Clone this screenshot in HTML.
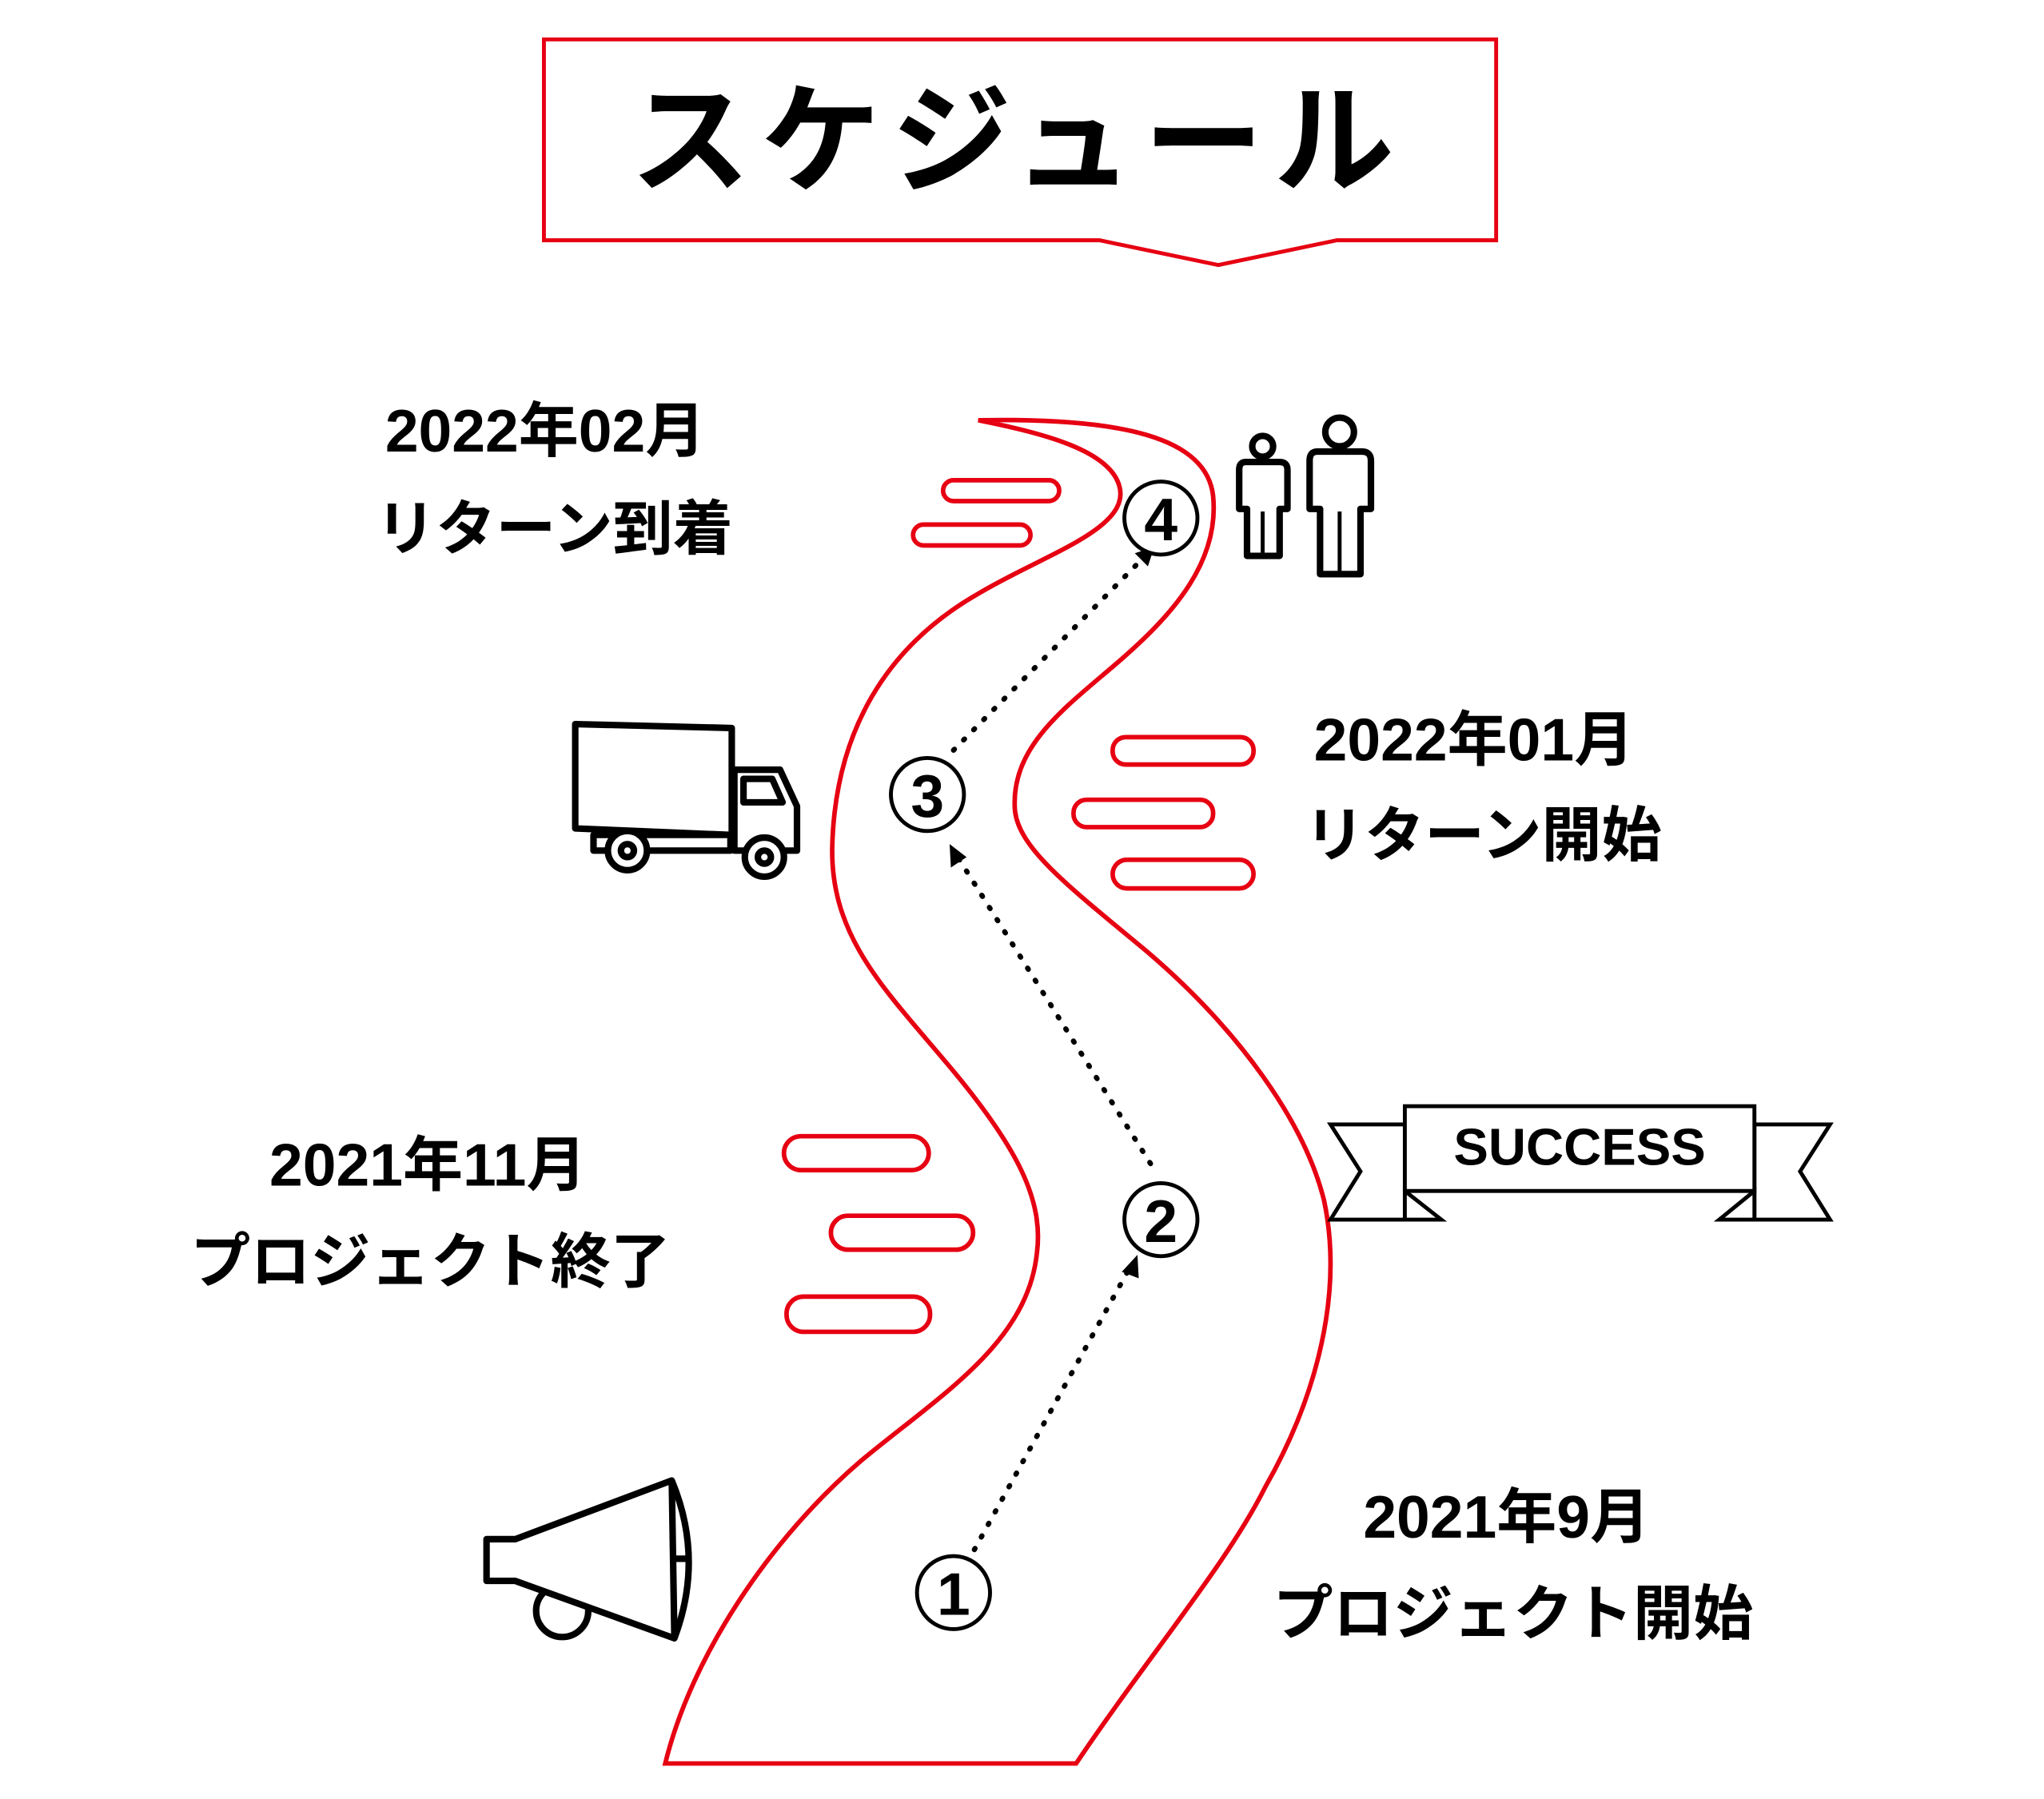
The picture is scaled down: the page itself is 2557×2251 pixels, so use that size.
<!DOCTYPE html>
<html><head><meta charset="utf-8"><style>
html,body{margin:0;padding:0;background:#fff;}
svg{display:block;}
text{font-family:"Liberation Sans","Noto Sans CJK JP",sans-serif;font-weight:bold;fill:#000;}
</style></head><body>
<svg width="2557" height="2251" viewBox="0 0 1567 1379" xmlns="http://www.w3.org/2000/svg">
<!-- title -->
<path d="M417,30 H1147 V184 H1025 L934,203 L843,184 H417 Z" fill="#fff" stroke="#e60012" stroke-width="3"/>
<text x="780" y="140" font-size="92" text-anchor="middle" letter-spacing="8">スケジュール</text>

<!-- road -->
<path d="M750,322 C800,332 850,345 858,372 C868,405 800,425 750,455 C680,495 640,560 638,650 C637,720 680,760 730,820 C780,880 800,920 795,960 C788,1030 720,1070 660,1120 C590,1180 530,1270 510,1352 L825,1352 C880,1270 940,1200 970,1140 C1010,1070 1030,990 1015,920 C1000,860 950,790 880,730 C820,680 780,650 778,620 C775,570 820,540 860,505 C900,470 935,430 930,380 C925,335 860,320 750,322 Z" fill="none" stroke="#e60012" stroke-width="3.5"/>

<!-- dashes -->
<g fill="#fff" stroke="#e60012" stroke-width="3.5">
<rect x="723" y="368" width="89" height="16" rx="8"/>
<rect x="700" y="402" width="90" height="16" rx="8"/>
<rect x="853" y="565" width="108" height="21" rx="10"/>
<rect x="823" y="613" width="107" height="21" rx="10"/>
<rect x="853" y="659" width="108" height="22" rx="11"/>
<rect x="601" y="871" width="111" height="26" rx="13"/>
<rect x="637" y="932" width="109" height="26" rx="13"/>
<rect x="603" y="994" width="110" height="27" rx="13"/>
</g>

<!-- dotted arrows -->
<g stroke="#000" stroke-width="4" stroke-dasharray="1 10" stroke-linecap="round" fill="none">
<path d="M747,1188 L866,972"/>
<path d="M882,892 L733,655"/>
<path d="M731,575 L878,426"/>
</g>
<g fill="#000">
<path d="M872,962 L860,975 L873,980 Z"/>
<path d="M728,647 L729,665 L741,657 Z"/>
<path d="M885,419 L870,424 L880,434 Z"/>
</g>

<!-- circled numbers -->
<g fill="#fff" stroke="#000" stroke-width="3">
<circle cx="731" cy="1221" r="28"/>
<circle cx="890" cy="935" r="28"/>
<circle cx="711" cy="609" r="28"/>
<circle cx="890" cy="397" r="28"/>
</g>
<text x="731" y="1238" font-size="46" text-anchor="middle">1</text>
<text x="890" y="952" font-size="46" text-anchor="middle">2</text>
<text x="711" y="626" font-size="46" text-anchor="middle">3</text>
<text x="890" y="414" font-size="46" text-anchor="middle">4</text>

<!-- labels -->
<g font-size="46" text-anchor="middle">
<text x="418" y="346">2022年02月</text>
<text x="425" y="421">リターン到着</text>
<text x="1130" y="583">2022年01月</text>
<text x="1137" y="656">リターン開始</text>
<text x="328" y="909">2021年11月</text>
<text x="330" y="983">プロジェクト終了</text>
<text x="1155" y="1179">2021年9月</text>
<text x="1160" y="1253">プロジェクト開始</text>
</g>

<!-- SUCCESS banner -->
<g stroke="#000" stroke-width="3" fill="#fff">
<path d="M1020,862 H1077 V935 H1020 L1043,898 Z"/>
<path d="M1403,862 H1345 V935 H1403 L1380,898 Z"/>
<path d="M1077,913 L1105,935 H1077 Z"/>
<path d="M1345,913 L1318,935 H1345 Z"/>
<rect x="1077" y="848" width="268" height="65"/>
</g>
<text x="1211" y="893" font-size="40" text-anchor="middle">SUCCESS</text>

<!-- people -->
<g fill="#fff" stroke="#000" stroke-width="5" stroke-linejoin="round">
<circle cx="968" cy="342" r="8"/>
<path d="M955,354 H981 Q987,354 987,360 V390 H981 V426 H956 V390 H950 V360 Q950,354 955,354 Z"/>
<circle cx="1027" cy="331" r="11"/>
<path d="M1010,346 H1044 Q1051,346 1051,353 V390 H1043 V440 H1012 V390 H1004 V353 Q1004,346 1010,346 Z"/>
</g>
<g stroke="#000" stroke-width="3"><line x1="968" y1="392" x2="968" y2="426"/><line x1="1027" y1="392" x2="1027" y2="440"/></g>

<!-- truck -->
<g fill="#fff" stroke="#000" stroke-width="5" stroke-linejoin="round">
<path d="M441,555 L561,558 V640 L441,635 Z"/>
<path d="M563,590 H598 L611,618 V652 H563 Z"/>
<path d="M570,597 H592 L600,615 H570 Z"/>
<path d="M455,640 H560 V652 H455 Z"/>
<circle cx="481" cy="652" r="15"/><circle cx="481" cy="652" r="5"/>
<circle cx="586" cy="657" r="15"/><circle cx="586" cy="657" r="5"/>
</g>

<!-- megaphone -->
<g fill="#fff" stroke="#000" stroke-width="5" stroke-linejoin="round">
<circle cx="431" cy="1235" r="20"/>
<path d="M373,1180 H395 L515,1135 Q540,1195 517,1256 L395,1212 H373 Z"/>
<line x1="515" y1="1135" x2="517" y2="1256"/>
<line x1="515" y1="1195" x2="530" y2="1195"/>
</g>
</svg>
</body></html>
